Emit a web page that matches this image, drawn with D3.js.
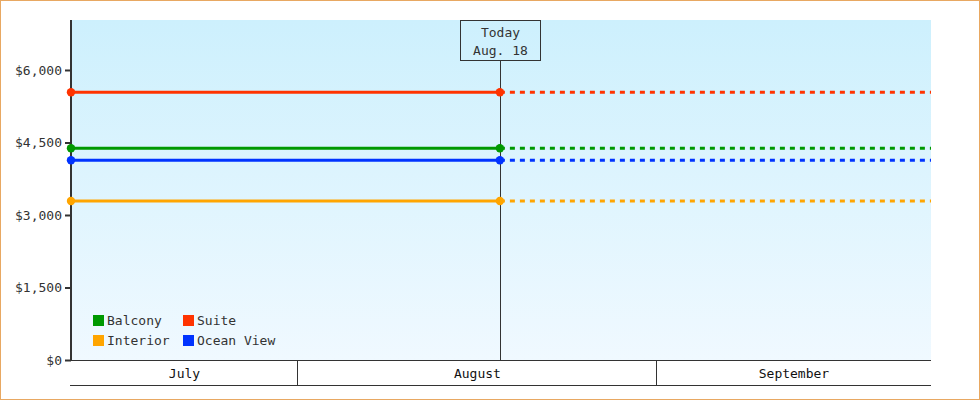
<!DOCTYPE html>
<html lang="en">
<head>
  <meta charset="UTF-8">
  <title>Cabin Price Tracker</title>
  <script src="https://d3js.org/d3.v7.min.js"></script>
  <style>
    body { margin: 0; background: #fff; }
    svg { display: block; font-family: "DejaVu Sans Mono", monospace; }
  </style>
</head>
<body>
  <svg width="980" height="400"></svg>

  <script>
    // Chart data
    const seriesNames = ["Balcony", "Suite", "Interior", "Ocean View"];
    const seriesColors = ["#009900", "#ff3300", "#ffa500", "#0033ff"];
    const pointDates = ["2024-07-12T09:36", "2024-08-18T10:30"];
    const balconyPrices = [4380, 4380];
    const suitePrices = [5540, 5540];
    const interiorPrices = [3290, 3290];
    const oceanViewPrices = [4132, 4132];
    const yTickValues = [0, 1500, 3000, 4500, 6000];
    const todayLabel = ["Today", "Aug. 18"];
    const domainEnd = "2024-09-24T16:00";

    const parse = d3.timeParse("%Y-%m-%dT%H:%M");
    const allPrices = [balconyPrices, suitePrices, interiorPrices, oceanViewPrices];

    const svg = d3.select("svg");
    const width = +svg.attr("width");
    const height = +svg.attr("height");
    const margin = {top: 20, right: 49, bottom: 40, left: 71};

    // outer border
    svg.append("rect")
      .attr("x", 0.5).attr("y", 0.5)
      .attr("width", width - 1).attr("height", height - 1)
      .attr("fill", "#fff")
      .attr("stroke", "#e8a862");

    const x = d3.scaleTime()
      .domain([parse(pointDates[0]), parse(domainEnd)])
      .range([margin.left, width - margin.right]);

    const y = d3.scaleLinear()
      .domain([0, 7034])
      .range([height - margin.bottom, margin.top]);

    // plot background gradient
    const grad = svg.append("defs").append("linearGradient")
      .attr("id", "bg").attr("x1", 0).attr("y1", 0).attr("x2", 0).attr("y2", 1);
    grad.append("stop").attr("offset", "0%").attr("stop-color", "#cdf0fd");
    grad.append("stop").attr("offset", "100%").attr("stop-color", "#f0f9ff");

    svg.append("rect")
      .attr("x", margin.left).attr("y", margin.top)
      .attr("width", width - margin.right - margin.left)
      .attr("height", height - margin.bottom - margin.top)
      .attr("fill", "url(#bg)");

    // month band axis under the plot
    const bandTop = height - margin.bottom;
    const bandBottom = bandTop + 25;
    const [d0, d1] = x.domain();
    const monthStarts = d3.timeMonth.range(d3.timeMonth.floor(d0), d1);
    const bands = svg.append("g").attr("class", "months");

    bands.append("line")
      .attr("x1", margin.left - 1).attr("x2", width - margin.right)
      .attr("y1", bandTop + 0.5).attr("y2", bandTop + 0.5)
      .attr("stroke", "#333");
    bands.append("line")
      .attr("x1", margin.left - 1).attr("x2", width - margin.right)
      .attr("y1", bandBottom + 0.5).attr("y2", bandBottom + 0.5)
      .attr("stroke", "#333");

    monthStarts.forEach(m => {
      const a = Math.max(x(m), x(d0));
      const b = Math.min(x(d3.timeMonth.offset(m, 1)), x(d1));
      if (m > d0) {
        bands.append("line")
          .attr("x1", Math.round(x(m)) - 0.5).attr("x2", Math.round(x(m)) - 0.5)
          .attr("y1", bandTop).attr("y2", bandBottom)
          .attr("stroke", "#333");
      }
      bands.append("text")
        .attr("x", (a + b) / 2)
        .attr("y", bandTop + 18)
        .attr("text-anchor", "middle")
        .attr("font-size", 13)
        .attr("fill", "#111")
        .text(d3.timeFormat("%B")(m));
    });

    // y axis
    const yAxis = svg.append("g")
      .attr("transform", `translate(${margin.left},0)`)
      .call(d3.axisLeft(y)
        .tickValues(yTickValues)
        .tickSize(6)
        .tickPadding(3)
        .tickFormat(d => "$" + d3.format(",")(d)));
    yAxis.select(".domain").remove();
    yAxis.selectAll(".tick line").attr("stroke", "#333").attr("stroke-width", 2);
    yAxis.selectAll(".tick text")
      .attr("font-family", "DejaVu Sans Mono, monospace")
      .attr("font-size", 13)
      .attr("fill", "#333");
    svg.append("line")
      .attr("x1", margin.left).attr("x2", margin.left)
      .attr("y1", margin.top).attr("y2", height - margin.bottom)
      .attr("stroke", "#333").attr("stroke-width", 2);

    // today marker
    const today = parse(pointDates[1]);
    const tx = Math.round(x(today)) + 0.5;
    svg.append("line")
      .attr("x1", tx).attr("x2", tx)
      .attr("y1", 60).attr("y2", height - margin.bottom)
      .attr("stroke", "#333");
    svg.append("rect")
      .attr("x", tx - 40).attr("y", margin.top + 0.5)
      .attr("width", 80).attr("height", 40)
      .attr("fill", "none").attr("stroke", "#333");
    todayLabel.forEach((t, i) => {
      svg.append("text")
        .attr("x", tx).attr("y", 37 + i * 18)
        .attr("text-anchor", "middle")
        .attr("font-size", 13)
        .attr("fill", "#333")
        .text(t);
    });

    // series lines
    const line = d3.line().x(d => x(d.date)).y(d => y(d.price));
    const drawOrder = [2, 3, 0, 1];
    drawOrder.forEach(i => {
      const pts = pointDates.map((d, j) => ({date: parse(d), price: allPrices[i][j]}));
      const last = pts[pts.length - 1];
      svg.append("path")
        .datum([last, {date: d1, price: last.price}])
        .attr("d", line)
        .attr("fill", "none")
        .attr("stroke", seriesColors[i])
        .attr("stroke-width", 3)
        .attr("stroke-dasharray", "5,5");
      svg.append("path")
        .datum(pts)
        .attr("d", line)
        .attr("fill", "none")
        .attr("stroke", seriesColors[i])
        .attr("stroke-width", 3);
      svg.selectAll(null)
        .data(pts)
        .enter()
        .append("circle")
        .attr("cx", d => x(d.date))
        .attr("cy", d => y(d.price))
        .attr("r", 4.2)
        .attr("fill", seriesColors[i]);
    });

    // legend
    const legend = svg.append("g").attr("transform", "translate(93,315)");
    seriesNames.forEach((name, i) => {
      const g = legend.append("g")
        .attr("transform", `translate(${(i % 2) * 90},${Math.floor(i / 2) * 20})`);
      g.append("rect")
        .attr("width", 11).attr("height", 11)
        .attr("fill", seriesColors[i]);
      g.append("text")
        .attr("x", 14).attr("y", 10)
        .attr("font-size", 13)
        .attr("fill", "#333")
        .text(name);
    });
  </script>
</body>
</html>
